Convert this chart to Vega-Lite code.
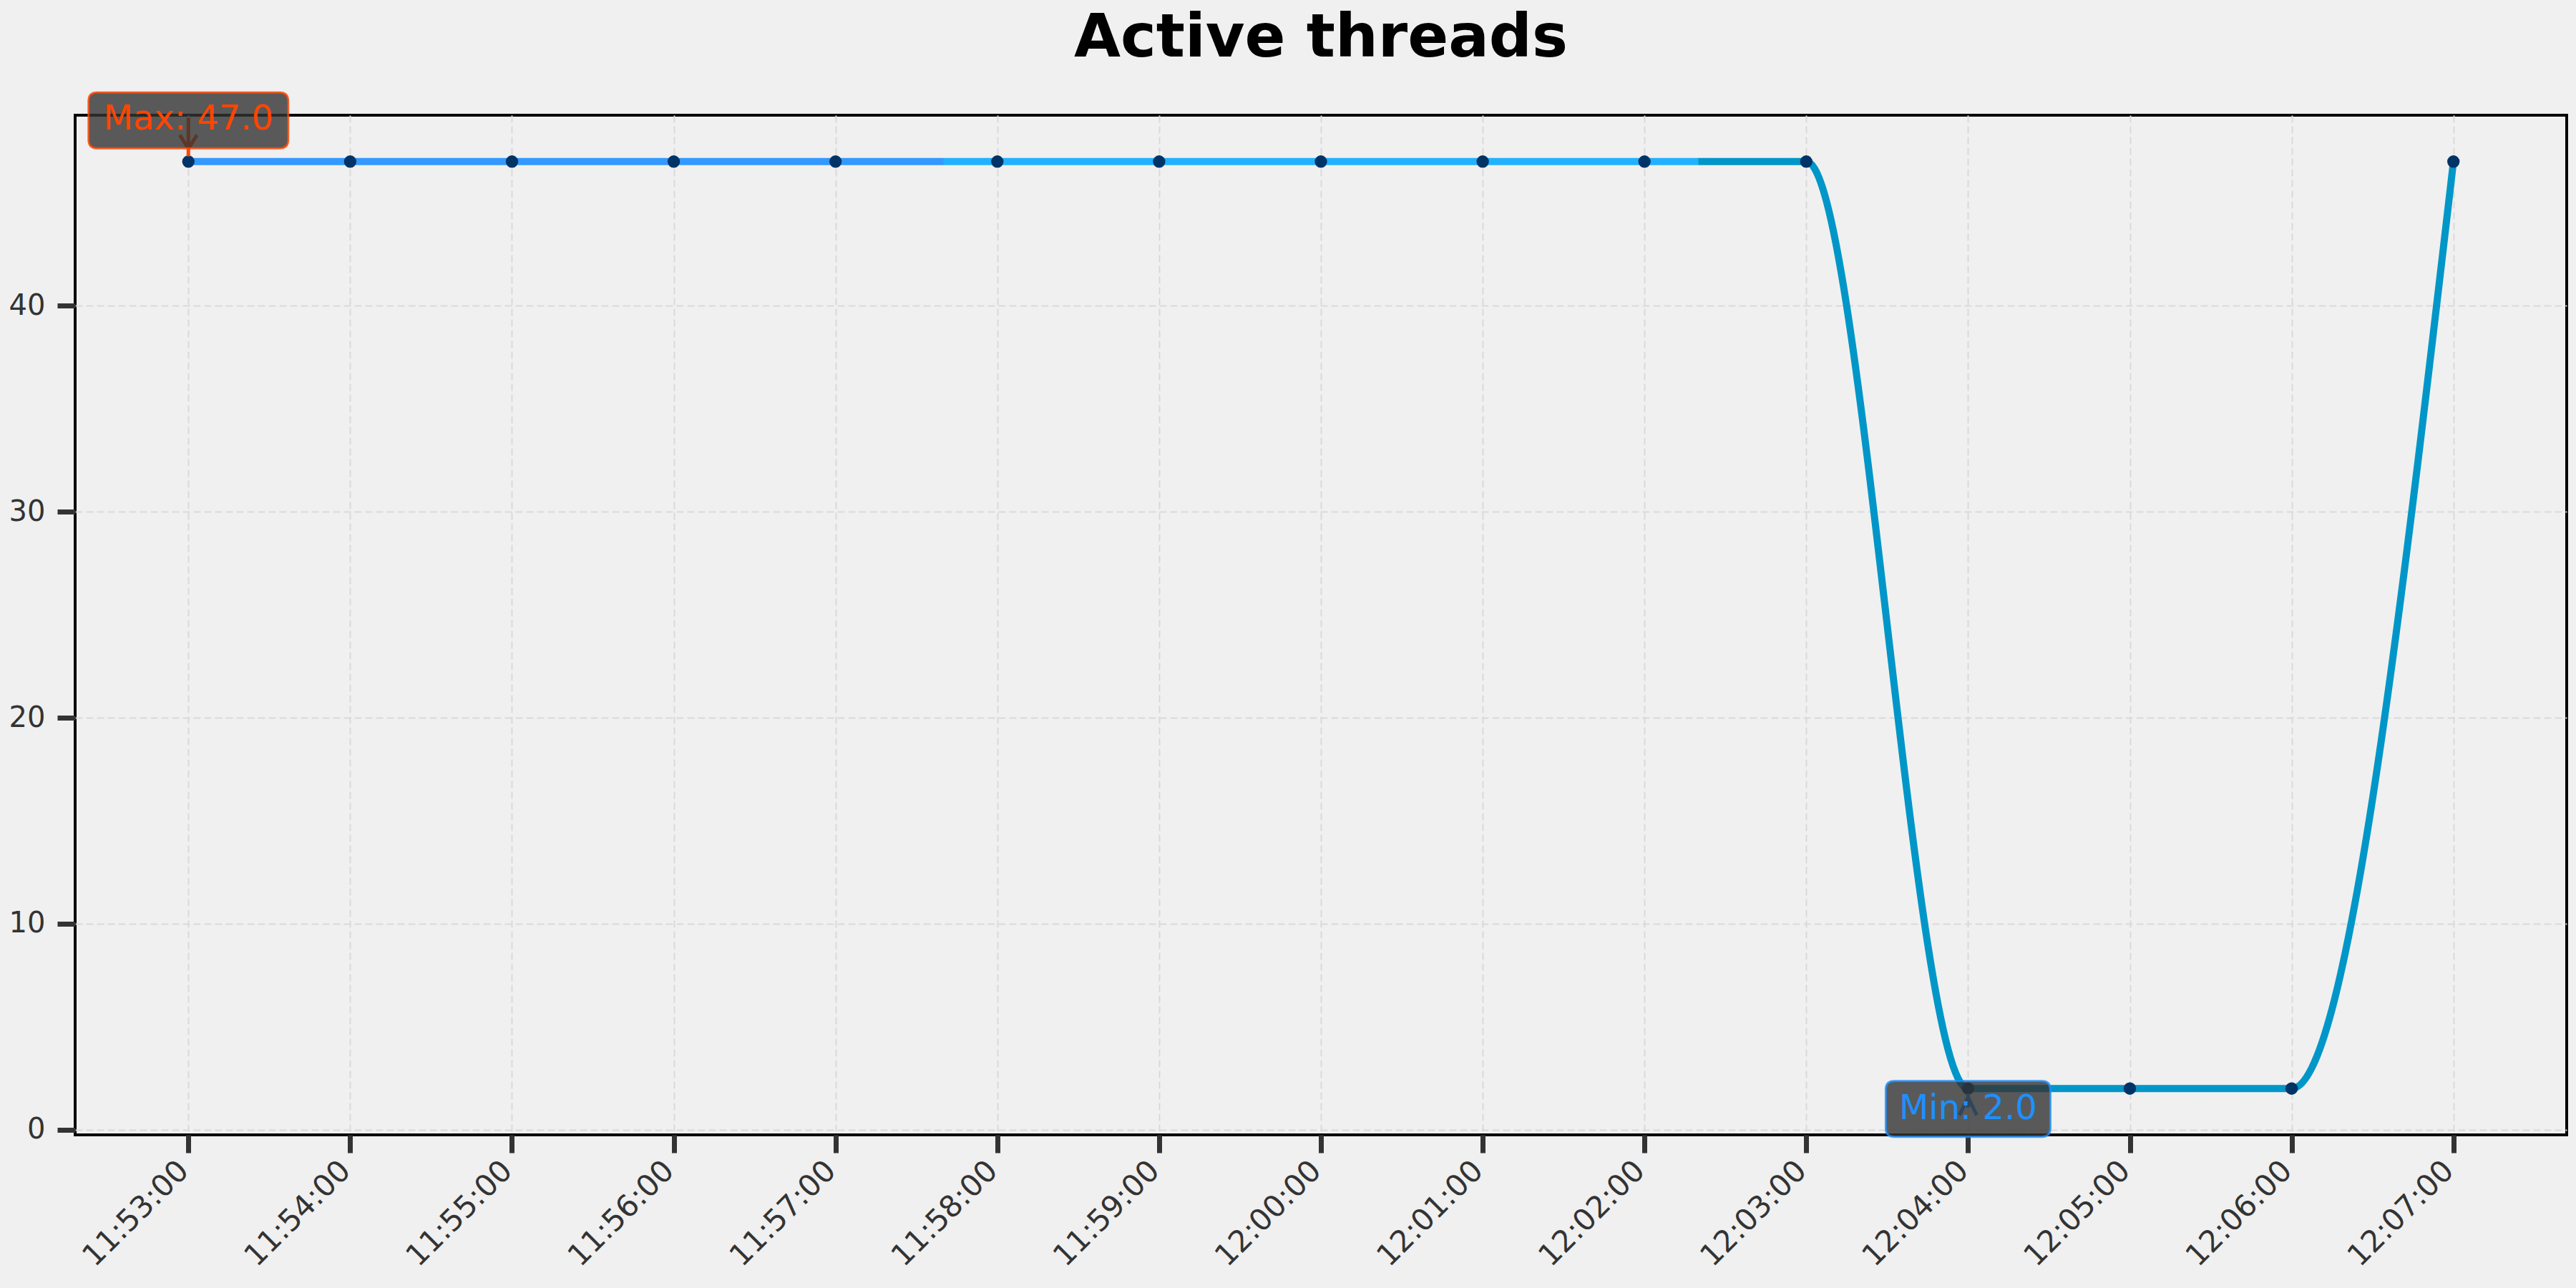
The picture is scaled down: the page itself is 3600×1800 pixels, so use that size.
{
  "$schema": "https://vega.github.io/schema/vega-lite/v6.json",
  "width": 3482,
  "height": 1425,
  "autosize": {"type": "none"},
  "padding": {"left": 105, "top": 161, "right": 13, "bottom": 214},
  "background": "#f0f0f0",
  "title": {
    "text": "Active threads",
    "font": "DejaVu Sans",
    "fontSize": 84,
    "fontWeight": "bold",
    "color": "#000000",
    "anchor": "middle",
    "baseline": "alphabetic",
    "offset": -40
  },
  "config": {
    "view": {"stroke": "#000000", "strokeWidth": 4, "fill": "#f0f0f0"},
    "axis": {
      "domain": false,
      "grid": true,
      "gridColor": "#d9d9d9",
      "gridDash": [10, 5],
      "gridWidth": 2,
      "tickColor": "#333333",
      "tickWidth": 7,
      "tickSize": 25,
      "labelFont": "DejaVu Sans",
      "labelFontSize": 40,
      "labelColor": "#333333",
      "labelLimit": 0,
      "title": null
    }
  },
  "datasets": {
    "series": [
      {"time": "2024-01-01T11:53:00", "threads": 47},
      {"time": "2024-01-01T11:54:00", "threads": 47},
      {"time": "2024-01-01T11:55:00", "threads": 47},
      {"time": "2024-01-01T11:56:00", "threads": 47},
      {"time": "2024-01-01T11:57:00", "threads": 47},
      {"time": "2024-01-01T11:58:00", "threads": 47},
      {"time": "2024-01-01T11:59:00", "threads": 47},
      {"time": "2024-01-01T12:00:00", "threads": 47},
      {"time": "2024-01-01T12:01:00", "threads": 47},
      {"time": "2024-01-01T12:02:00", "threads": 47},
      {"time": "2024-01-01T12:03:00", "threads": 47},
      {"time": "2024-01-01T12:04:00", "threads": 2},
      {"time": "2024-01-01T12:05:00", "threads": 2},
      {"time": "2024-01-01T12:06:00", "threads": 2},
      {"time": "2024-01-01T12:07:00", "threads": 47}
    ],
    "notes": [
      {"kind": "max", "time": "2024-01-01T11:53:00", "threads": 47, "label": "Max: 47.0"},
      {"kind": "min", "time": "2024-01-01T12:04:00", "threads": 2, "label": "Min: 2.0"}
    ]
  },
  "encoding": {
    "x": {
      "field": "time",
      "type": "temporal",
      "scale": {
        "domain": [
          {"year": 2024, "month": 1, "date": 1, "hours": 11, "minutes": 52, "seconds": 18},
          {"year": 2024, "month": 1, "date": 1, "hours": 12, "minutes": 7, "seconds": 42}
        ],
        "nice": false
      },
      "axis": {
        "format": "%H:%M:%S",
        "tickCount": 15,
        "labelAngle": -45,
        "labelAlign": "right",
        "labelBaseline": "middle",
        "labelFontSize": 42,
        "labelPadding": 18,
        "labelOffset": -7,
        "labelOverlap": false
      }
    },
    "y": {
      "field": "threads",
      "type": "quantitative",
      "scale": {"domain": [-0.25, 49.25], "nice": false, "zero": false},
      "axis": {"values": [0, 10, 20, 30, 40], "labelPadding": 17}
    }
  },
  "layer": [
    {
      "data": {"name": "series"},
      "mark": {
        "type": "line",
        "interpolate": "monotone",
        "strokeWidth": 10,
        "stroke": {
          "gradient": "linear",
          "x1": 0, "y1": 0, "x2": 1, "y2": 0,
          "stops": [
            {"offset": 0, "color": "#3399ff"},
            {"offset": 0.3333, "color": "#3399ff"},
            {"offset": 0.3334, "color": "#22b1ff"},
            {"offset": 0.6666, "color": "#22b1ff"},
            {"offset": 0.6667, "color": "#0096c8"},
            {"offset": 1, "color": "#0096c8"}
          ]
        }
      }
    },
    {
      "data": {"name": "series"},
      "mark": {"type": "point", "filled": true, "fill": "#003366", "size": 300, "opacity": 1}
    },
    {
      "data": {"name": "notes"},
      "transform": [{"filter": "datum.kind === 'max'"}],
      "mark": {"type": "point", "filled": false, "stroke": "#ff4500", "strokeWidth": 5, "opacity": 1, "size": 576,
        "shape": "M0,-5.1L0,-0.6M-1,-3.1L0,-1.5L1,-3.1"}
    },
    {
      "data": {"name": "notes"},
      "transform": [{"filter": "datum.kind === 'min'"}],
      "mark": {"type": "point", "filled": false, "stroke": "#1e90ff", "strokeWidth": 5, "opacity": 1, "size": 576,
        "shape": "M0,0.6L0,2.2M-1,3.1L0,1L1,3.1"}
    },
    {
      "data": {"name": "notes"},
      "transform": [{"filter": "datum.kind === 'max'"}],
      "mark": {"type": "point", "filled": true, "fill": "#333333", "fillOpacity": 0.8, "stroke": "#ff4500", "strokeOpacity": 0.8, "strokeWidth": 3, "opacity": 1,
        "size": 77841, "yOffset": -57.5,
        "shape": "M-0.914,-0.28L0.914,-0.28Q1,-0.28 1,-0.194L1,0.194Q1,0.28 0.914,0.28L-0.914,0.28Q-1,0.28 -1,0.194L-1,-0.194Q-1,-0.28 -0.914,-0.28Z"}
    },
    {
      "data": {"name": "notes"},
      "transform": [{"filter": "datum.kind === 'min'"}],
      "mark": {"type": "point", "filled": true, "fill": "#333333", "fillOpacity": 0.8, "stroke": "#1e90ff", "strokeOpacity": 0.8, "strokeWidth": 3, "opacity": 1,
        "size": 52900, "yOffset": 28.5,
        "shape": "M-0.896,-0.339L0.896,-0.339Q1,-0.339 1,-0.235L1,0.235Q1,0.339 0.896,0.339L-0.896,0.339Q-1,0.339 -1,0.235L-1,-0.235Q-1,-0.339 -0.896,-0.339Z"}
    },
    {
      "data": {"name": "notes"},
      "transform": [{"filter": "datum.kind === 'max'"}],
      "mark": {"type": "text", "font": "DejaVu Sans", "fontSize": 48, "color": "#ff4500", "align": "center", "baseline": "middle", "dy": -58.5},
      "encoding": {"text": {"field": "label"}}
    },
    {
      "data": {"name": "notes"},
      "transform": [{"filter": "datum.kind === 'min'"}],
      "mark": {"type": "text", "font": "DejaVu Sans", "fontSize": 48, "color": "#1e90ff", "align": "center", "baseline": "middle", "dy": 29},
      "encoding": {"text": {"field": "label"}}
    }
  ]
}
